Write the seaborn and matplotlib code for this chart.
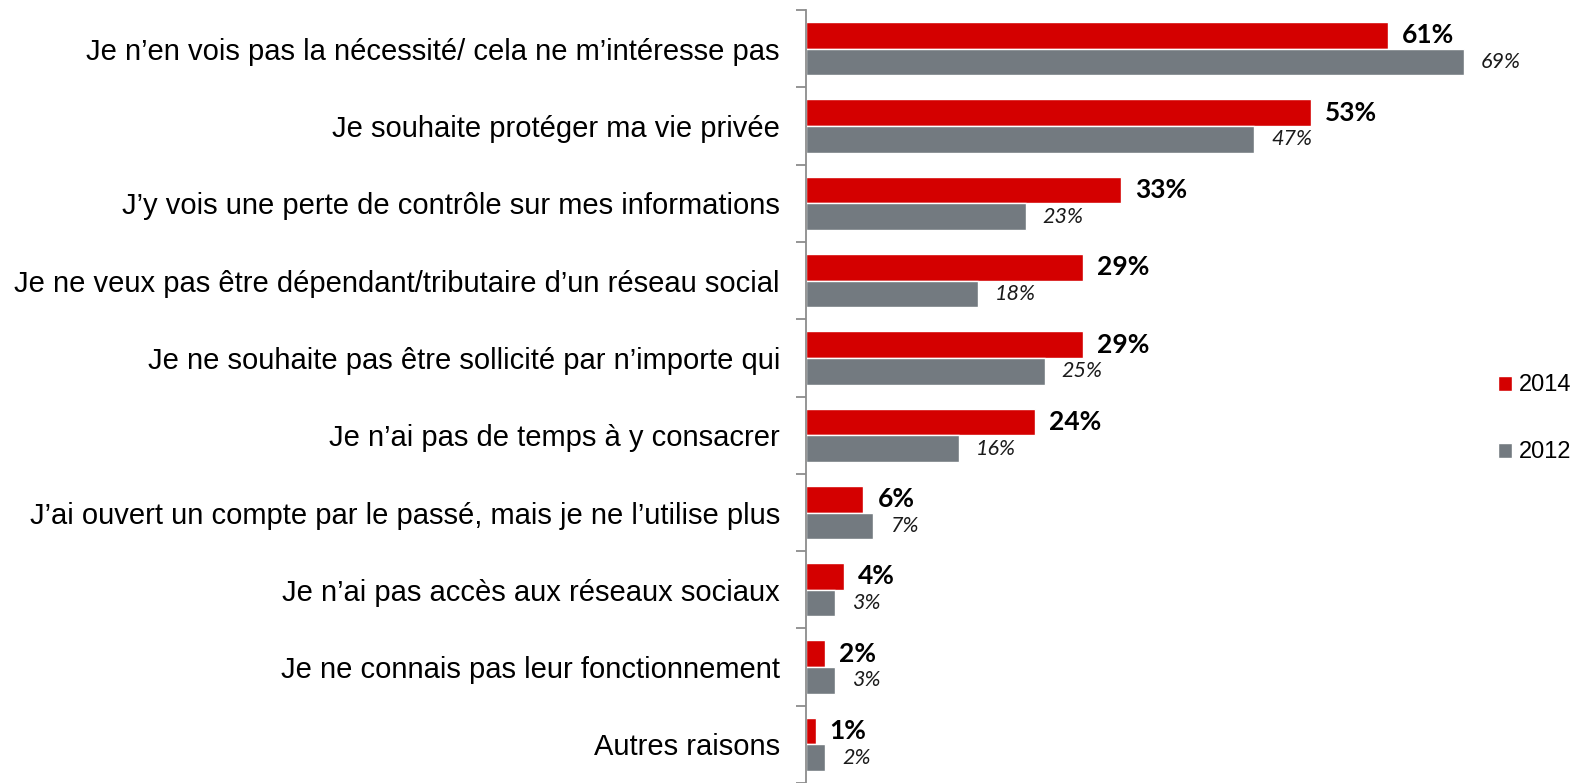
import pandas as pd
import seaborn as sns
import matplotlib.pyplot as plt
from matplotlib.ticker import FixedLocator

reasons = [
    "Je n\u2019en vois pas la nécessité/ cela ne m\u2019intéresse pas",
    "Je souhaite protéger ma vie privée",
    "J\u2019y vois une perte de contrôle sur mes informations",
    "Je ne veux pas être dépendant/tributaire d\u2019un réseau social",
    "Je ne souhaite pas être sollicité par n\u2019importe qui",
    "Je n\u2019ai pas de temps à y consacrer",
    "J\u2019ai ouvert un compte par le passé, mais je ne l\u2019utilise plus",
    "Je n\u2019ai pas accès aux réseaux sociaux",
    "Je ne connais pas leur fonctionnement",
    "Autres raisons",
]
vals_2014 = [61, 53, 33, 29, 29, 24, 6, 4, 2, 1]
vals_2012 = [69, 47, 23, 18, 25, 16, 7, 3, 3, 2]
years = ["2014", "2012"]

df = pd.DataFrame({
    "Raison": reasons * 2,
    "Valeur": vals_2014 + vals_2012,
    "Année": ["2014"] * len(reasons) + ["2012"] * len(reasons),
})

sns.set_style("white")
plt.rcParams["font.family"] = ["Liberation Sans", "DejaVu Sans"]
plt.rcParams["text.color"] = "black"
plt.rcParams["ytick.labelcolor"] = "black"

fig = plt.figure(figsize=(15.81, 7.83), dpi=100)
ax = fig.add_axes([0.51, 0.0, 0.422, 0.987])

sns.barplot(data=df, y="Raison", x="Valeur", hue="Année", hue_order=years,
            palette=["#d40000", "#737a80"], saturation=1, orient="h",
            width=0.69, ax=ax, legend=True)

ax.set_xlim(0, 70)
ax.set_ylim(len(reasons) - 0.5, -0.5)
ax.set_xlabel("")
ax.set_ylabel("")
ax.set_xticks([])
for s in ["top", "right", "bottom"]:
    ax.spines[s].set_visible(False)
ax.spines["left"].set_color("#8c8c8c")
ax.spines["left"].set_linewidth(1.3)

ax.tick_params(axis="y", which="major", left=False, length=0, pad=19,
               labelsize=21, labelcolor="black")
ax.yaxis.set_minor_locator(FixedLocator([i - 0.5 for i in range(len(reasons) + 1)]))
ax.tick_params(axis="y", which="minor", left=True, length=7, width=1.3,
               color="#8c8c8c", direction="out")

red_bars, gray_bars = ax.containers[0], ax.containers[1]
ax.bar_label(red_bars, labels=[f"{v}%" for v in vals_2014], padding=10,
             fontsize=19, fontweight="bold", family="Lato", color="black")
ax.bar_label(gray_bars, labels=[f"{v}%" for v in vals_2012], padding=12,
             fontsize=15.5, fontstyle="italic", family="Lato", color="#1a1a1a")

leg = ax.legend(loc="center left", bbox_to_anchor=(0.934, 0.465),
                bbox_transform=fig.transFigure, frameon=False, fontsize=17,
                handlelength=0.6, handleheight=0.6, handletextpad=0.3,
                labelspacing=1.9)

fig.savefig("out.png", dpi=100)
